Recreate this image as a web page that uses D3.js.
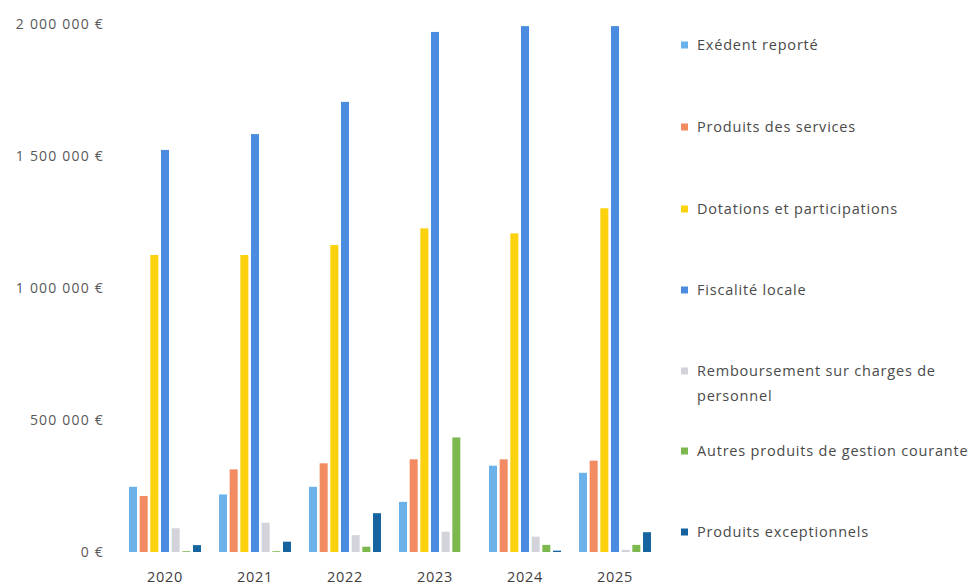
<!DOCTYPE html>
<html><head><meta charset="utf-8">
<script src="https://cdn.jsdelivr.net/npm/d3@7"></script>
<style>body{margin:0;background:#fff}svg{display:block}text{font-family:"Open Sans",sans-serif}</style>
</head><body>
<svg id="c" width="980" height="586"></svg>
<script>
const years = ["2020","2021","2022","2023","2024","2025"];
const seriesNames = ["Exédent reporté","Produits des services","Dotations et participations","Fiscalité locale","Remboursement sur charges de personnel","Autres produits de gestion courante","Produits exceptionnels"];
const exedent = [247000,218000,247000,190000,327000,300000];
const produitsServices = [212000,313000,336000,351000,351000,346000];
const dotations = [1125000,1125000,1163000,1226000,1207000,1302000];
const fiscalite = [1523000,1583000,1705000,1970000,1992000,1992000];
const remboursement = [90000,111000,64000,77000,58000,8000];
const autres = [3000,3000,20000,434000,27000,27000];
const exceptionnels = [26000,39000,147000,0,5000,75000];
const yTicks = [0,500000,1000000,1500000,2000000];
const colors = ["#6cb2ea","#f28b62","#fcd20f","#4a8de0","#d3d3db","#7cb84e","#15649f"];
const allSeries = [exedent,produitsServices,dotations,fiscalite,remboursement,autres,exceptionnels];

const svg = d3.select("#c");
const x0 = d3.scaleBand().domain(years).range([120,660]).paddingInner(0.2).paddingOuter(0.1);
const x1 = d3.scaleBand().domain(d3.range(seriesNames.length)).range([0,x0.bandwidth()]).paddingInner(0.25);
const y = d3.scaleLinear().domain([0,2000000]).range([552,24]);

const fmt = v => (v===0 ? "0" : d3.format(",")(v).replace(/,/g,"\u00a0")) + " €";
const yAxis = d3.axisLeft(y).tickValues(yTicks).tickSize(0).tickPadding(0).tickFormat(fmt);
const ga = svg.append("g").attr("transform","translate(104,0)").call(yAxis);
ga.select(".domain").remove();
ga.selectAll("text").attr("fill","#595959").style("font-size","14px").style("letter-spacing","1.2px")
  .style("font-family","'Open Sans',sans-serif").attr("dy","0.35em");

const xAxis = d3.axisBottom(x0).tickSize(0).tickPadding(0);
const gx = svg.append("g").attr("transform","translate(0,569)").call(xAxis);
gx.select(".domain").remove();
gx.selectAll("text").attr("fill","#404040").style("font-size","14.5px").style("letter-spacing","0.7px")
  .style("font-family","'Open Sans',sans-serif").attr("dy","0.9em");

const groups = svg.append("g").selectAll("g").data(years).join("g")
  .attr("transform", d => `translate(${x0(d)},0)`);
groups.selectAll("rect").data((d,i) => allSeries.map((s,k)=>({k, v:s[i]}))).join("rect")
  .attr("x", d => x1(d.k)).attr("width", x1.bandwidth())
  .attr("y", d => y(d.v)).attr("height", d => y(0)-y(d.v))
  .attr("fill", d => colors[d.k]);

const legendY = [45,127,209,290,371,451,532];
const lg = svg.append("g");
seriesNames.forEach((n,i) => {
  lg.append("rect").attr("x",681).attr("y",legendY[i]-3.5).attr("width",7).attr("height",7).attr("fill",colors[i]);
  const t = lg.append("text").attr("x",697).attr("y",legendY[i]).attr("dy","0.35em")
    .attr("fill","#4a4a4a").style("font-size","14.5px").style("letter-spacing","0.8px");
  if (i===4) {
    t.append("tspan").attr("x",697).text("Remboursement sur charges de");
    t.append("tspan").attr("x",697).attr("dy","1.75em").text("personnel");
  } else t.text(n);
});
</script>
</body></html>
